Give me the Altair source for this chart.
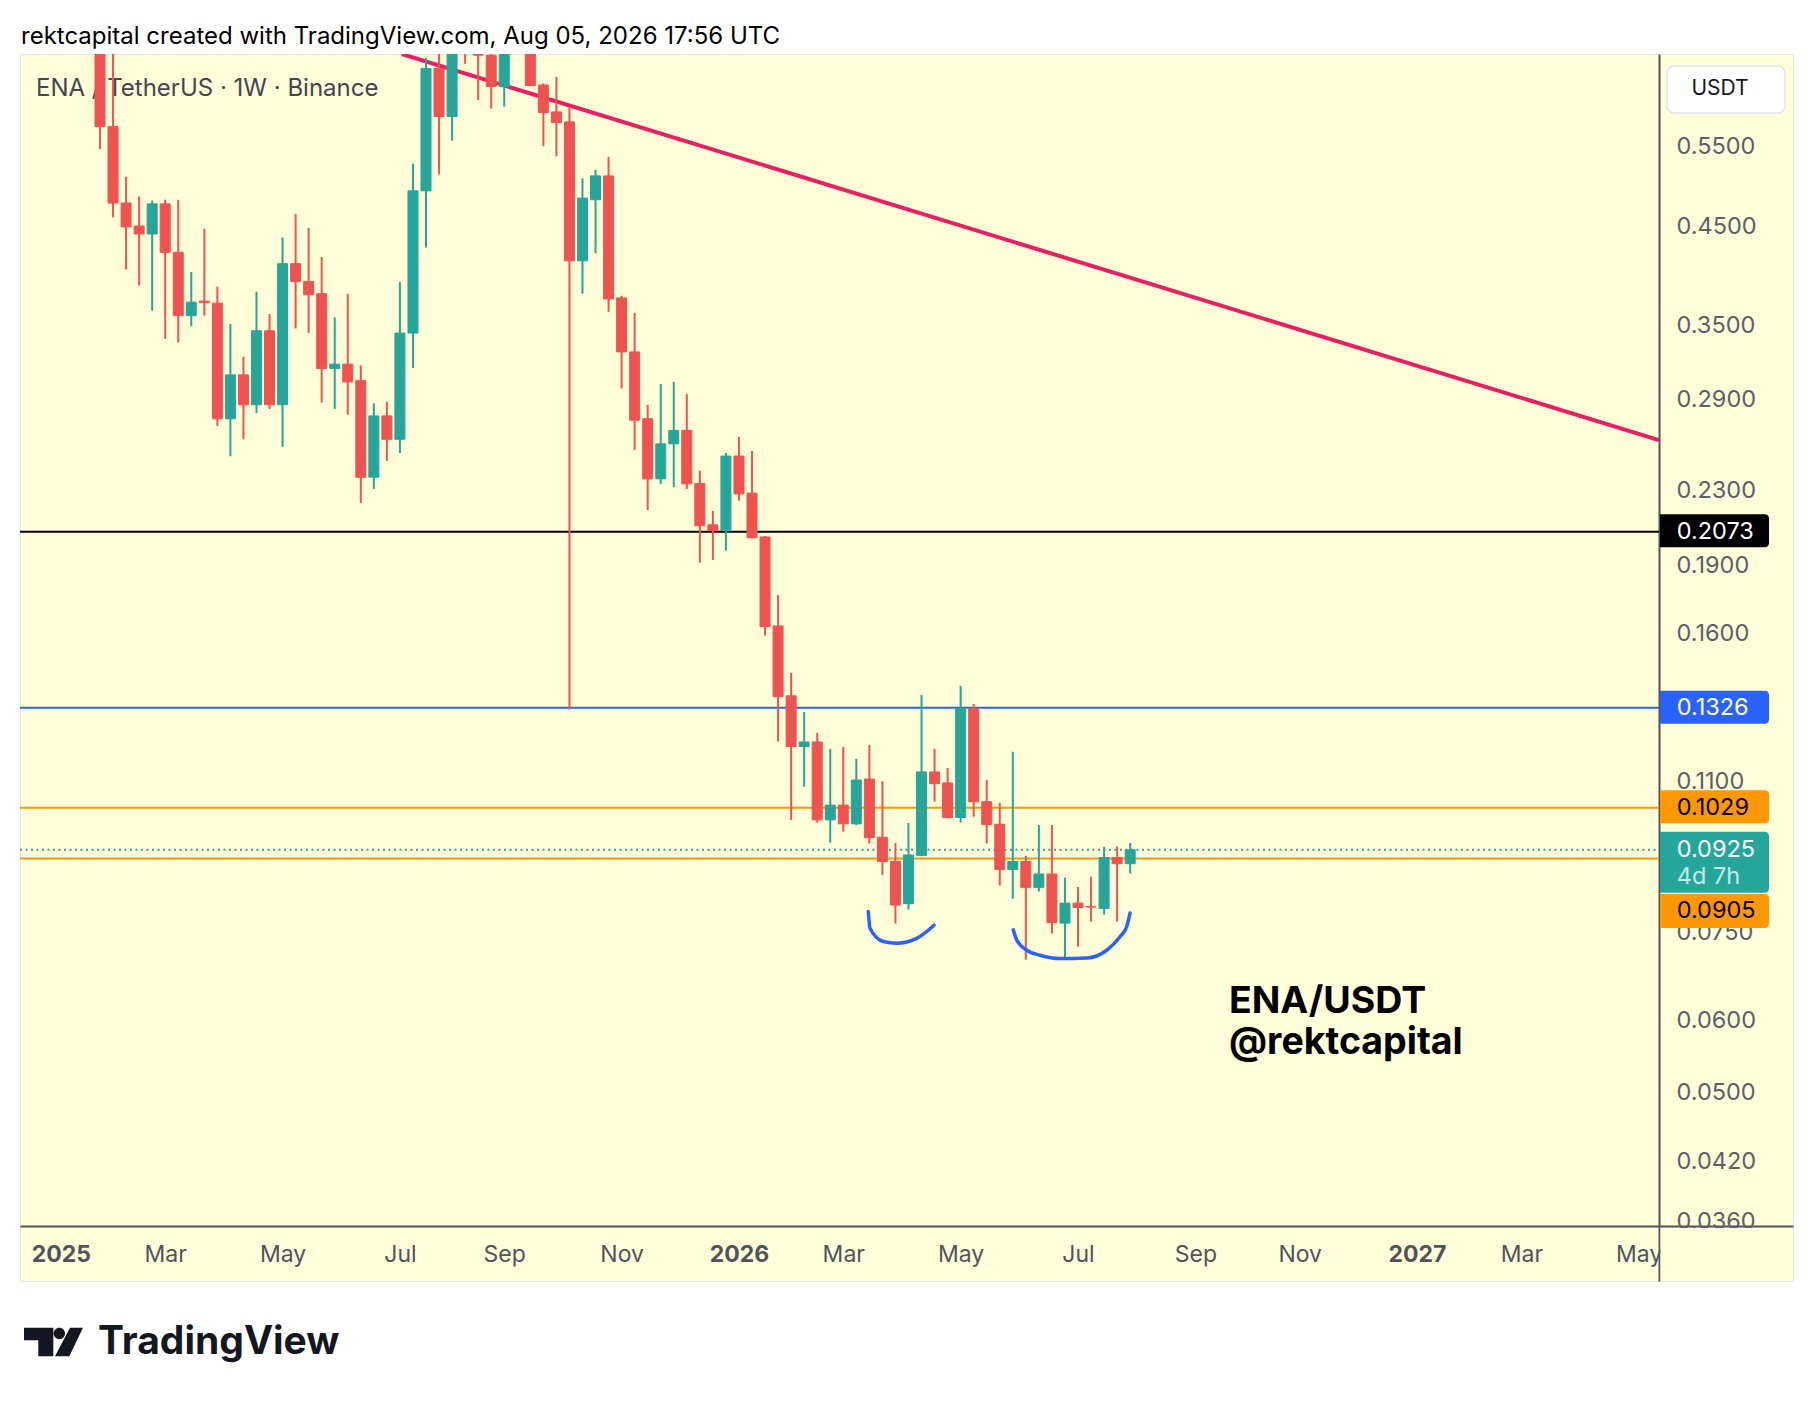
import altair as alt
import pandas as pd

# ---------------- data ----------------
FIRST_WEEK = "2025-01-27"   # first weekly candle shown

opens = [0.760, 0.579, 0.477, 0.450, 0.441, 0.476, 0.421, 0.3585, 0.372, 0.370,
         0.276, 0.3085, 0.286, 0.345, 0.286, 0.409, 0.391, 0.379, 0.3135, 0.317,
         0.304, 0.238, 0.278, 0.262, 0.343, 0.492, 0.671, 0.594, 0.745, 0.725,
         0.694, 0.641, 0.750, 0.780, 0.6435, 0.601, 0.586, 0.412, 0.481, 0.511,
         0.375, 0.327, 0.276, 0.237, 0.259, 0.268, 0.2343, 0.2109, 0.2081, 0.2511,
         0.2286, 0.2045, 0.1632, 0.1367, 0.1202, 0.1216, 0.0998, 0.1036, 0.0988, 0.1107,
         0.0955, 0.0898, 0.0807, 0.0912, 0.1127, 0.1096, 0.1004, 0.1323, 0.1045, 0.0987,
         0.0880, 0.0898, 0.0841, 0.0870, 0.0768, 0.0808, 0.0801, 0.0797, 0.0907, 0.0893]
highs = [0.830, 0.720, 0.510, 0.485, 0.480, 0.481, 0.481, 0.4005, 0.447, 0.386,
         0.351, 0.323, 0.381, 0.360, 0.437, 0.464, 0.448, 0.416, 0.357, 0.379,
         0.316, 0.287, 0.288, 0.3905, 0.527, 0.689, 0.720, 0.780, 0.840, 0.760,
         0.720, 0.800, 0.850, 0.800, 0.646, 0.657, 0.609, 0.508, 0.519, 0.536,
         0.377, 0.361, 0.286, 0.3015, 0.303, 0.294, 0.242, 0.2185, 0.2531, 0.2636,
         0.2544, 0.2050, 0.1765, 0.1449, 0.1312, 0.1244, 0.1195, 0.1201, 0.1165, 0.1207,
         0.1101, 0.0941, 0.0990, 0.1370, 0.1195, 0.1138, 0.1402, 0.1339, 0.1104, 0.1042,
         0.1186, 0.0911, 0.0985, 0.0985, 0.0862, 0.0842, 0.0864, 0.0932, 0.0933, 0.0941]
lows = [0.547, 0.460, 0.403, 0.387, 0.363, 0.338, 0.335, 0.349, 0.3585, 0.271,
        0.251, 0.262, 0.280, 0.283, 0.257, 0.347, 0.343, 0.2876, 0.283, 0.279,
        0.223, 0.231, 0.248, 0.253, 0.314, 0.426, 0.513, 0.559, 0.679, 0.6195,
        0.606, 0.609, 0.705, 0.642, 0.551, 0.537, 0.132, 0.379, 0.420, 0.362,
        0.298, 0.255, 0.219, 0.234, 0.232, 0.231, 0.1916, 0.1929, 0.1975, 0.2242,
        0.2037, 0.1592, 0.1217, 0.0998, 0.1086, 0.0991, 0.0942, 0.0969, 0.0985, 0.0940,
        0.0868, 0.0767, 0.0795, 0.0910, 0.1045, 0.1002, 0.0991, 0.1006, 0.0940, 0.0845,
        0.0817, 0.0700, 0.0832, 0.0748, 0.0704, 0.0724, 0.0771, 0.0785, 0.0771, 0.0871]
closes = [0.579, 0.477, 0.449, 0.441, 0.476, 0.421, 0.3585, 0.371, 0.3705, 0.276,
          0.3085, 0.286, 0.345, 0.286, 0.409, 0.391, 0.378, 0.3135, 0.317, 0.303,
          0.238, 0.278, 0.262, 0.343, 0.492, 0.671, 0.594, 0.740, 0.725, 0.694,
          0.641, 0.750, 0.780, 0.6425, 0.600, 0.585, 0.412, 0.483, 0.511, 0.374,
          0.327, 0.275, 0.237, 0.259, 0.268, 0.234, 0.2104, 0.2078, 0.2511, 0.2281,
          0.2041, 0.1629, 0.1364, 0.1202, 0.1216, 0.0998, 0.1036, 0.0988, 0.1104, 0.0954,
          0.0898, 0.0804, 0.0913, 0.1127, 0.1094, 0.1004, 0.1323, 0.1045, 0.0986, 0.0880,
          0.0898, 0.0841, 0.0870, 0.0769, 0.0808, 0.0799, 0.0800, 0.0907, 0.0893, 0.0925]

level_prices = [0.2073, 0.1326, 0.1029, 0.0905]
level_colors = ["#000000", "#2962ff", "#ff9800", "#ff9800"]
last_price = 0.0925
countdown = "4d 7h"

y_ticks = [0.55, 0.45, 0.35, 0.29, 0.23, 0.19, 0.16, 0.11, 0.075, 0.06, 0.05, 0.042, 0.036]
x_tick_dates = ["2025-01-06", "2025-03-03", "2025-05-05", "2025-07-07", "2025-09-01",
                "2025-11-03", "2026-01-05", "2026-03-02", "2026-05-04", "2026-07-06",
                "2026-09-07", "2026-11-02", "2027-01-04", "2027-03-01", "2027-05-03"]

# descending trendline (weeks after first candle, price)
trend_weeks = [23.14, 119.55]
trend_prices = [0.6961, 0.2615]

# hand drawn blue arcs (weeks after first candle, price)
arc1_weeks = [58.92, 59.05, 60.07, 61.10, 62.63, 63.96]
arc1_prices = [0.0791, 0.0758, 0.0733, 0.0730, 0.0739, 0.0764]
arc2_weeks = [70.04, 70.30, 71.07, 72.09, 73.62, 75.67, 77.20, 78.22, 78.73, 78.99]
arc2_prices = [0.0755, 0.0736, 0.0717, 0.0708, 0.0702, 0.0703, 0.0717, 0.0742, 0.0761, 0.0788]

header = "rektcapital created with TradingView.com, Aug 05, 2026 17:56 UTC"
symbol_line = "ENA / TetherUS \u00b7 1W \u00b7 Binance"
note_lines = ["ENA/USDT", "@rektcapital"]

# ---------------- geometry / style ----------------
PLOT_W, PLOT_H = 1773, 1227
FIRST_X = 80.0        # px of first candle from plot left
STEP = 13.04          # px per week
AXIS_X = 1639.0       # px of price axis line from plot left
Y_DOMAIN = [0.03099, 0.6961]
GREEN, RED = "#26a69a", "#ef5350"
BG = "#fffed8"
FONT = "Inter"

WEEK_MS = 7 * 86400000
base_ms = int(pd.Timestamp(FIRST_WEEK, tz="UTC").timestamp() * 1000)


def wk(w):
    return base_ms + w * WEEK_MS


t_left = wk(-FIRST_X / STEP)
t_right = wk((PLOT_W - FIRST_X) / STEP)
t_axis = wk((AXIS_X - FIRST_X) / STEP)

xscale = alt.Scale(type="utc", domain=[t_left, t_right], nice=False, padding=0)
yscale = alt.Scale(type="log", domain=Y_DOMAIN, nice=False, zero=False, padding=0)

tick_ms = [int(pd.Timestamp(d, tz="UTC").timestamp() * 1000) for d in x_tick_dates]
xaxis = alt.Axis(orient="bottom", offset=-55, values=tick_ms, title=None,
                 labelExpr="utcmonth(datum.value) == 0 ? utcFormat(datum.value, '%Y') : utcFormat(datum.value, '%b')",
                 labelFontWeight={"condition": {"test": "utcmonth(datum.value) == 0", "value": "bold"}, "value": "normal"},
                 labelFont=FONT, labelFontSize=23, labelColor="#50535e", labelPadding=17,
                 ticks=False, tickSize=0, grid=False, domainColor="#50535e", domainWidth=2,
                 labelFlush=False, labelOverlap=False, labelBound=False, zindex=0)
yaxis = alt.Axis(orient="right", offset=-(PLOT_W - AXIS_X), values=y_ticks, format=".4f",
                 title=None, labelFont=FONT, labelFontSize=23.5, labelColor="#5d606b",
                 labelPadding=17, ticks=False, tickSize=0, grid=False,
                 domainColor="#50535e", domainWidth=2, labelFlush=False,
                 labelOverlap=False, labelBound=False, zindex=0)


def X(field, **kw):
    return alt.X(field, type="temporal", scale=xscale, axis=xaxis, **kw)


def Y(field, **kw):
    return alt.Y(field, type="quantitative", scale=yscale, axis=yaxis, **kw)


# ---------------- tables ----------------
cdf = pd.DataFrame({"o": opens, "h": highs, "l": lows, "c": closes})
cdf["t"] = [wk(i) for i in range(len(cdf))]
cdf["col"] = [GREEN if c >= o else RED for o, c in zip(opens, closes)]

ldf = pd.DataFrame({"p": level_prices, "col": level_colors,
                    "t0": [t_left] * len(level_prices), "t1": [t_axis] * len(level_prices)})
lastdf = pd.DataFrame({"p": [last_price], "t0": [t_left], "t1": [t_axis]})
trdf = pd.DataFrame({"t": [wk(w) for w in trend_weeks], "p": trend_prices})
a1 = pd.DataFrame({"t": [wk(w) for w in arc1_weeks], "p": arc1_prices})
a2 = pd.DataFrame({"t": [wk(w) for w in arc2_weeks], "p": arc2_prices})
one = pd.DataFrame({"a": [0]})

layers = []

# patch hiding the part of the price scale below the time axis line
patch = pd.DataFrame({"t0": [t_axis + int(1.5 / STEP * WEEK_MS)], "t1": [t_right],
                      "p0": [0.03545], "p1": [Y_DOMAIN[0]]})
layers.append(alt.Chart(patch).mark_rect(color=BG).encode(
    x=X("t0"), x2="t1", y=Y("p0"), y2="p1"))

# symbol line text (under the candles)
layers.append(alt.Chart(one).mark_text(text=symbol_line, align="left", baseline="middle",
                                       font=FONT, fontSize=24, color="#434651").encode(
    x=alt.value(16), y=alt.value(35)))

# horizontal levels
layers.append(alt.Chart(ldf).mark_rule(strokeWidth=2).encode(
    x=X("t0"), x2="t1", y=Y("p"), color=alt.Color("col:N", scale=None)))
layers.append(alt.Chart(lastdf).mark_rule(strokeWidth=2, strokeDash=[2, 3.5], color=GREEN).encode(
    x=X("t0"), x2="t1", y=Y("p")))

# trendline
layers.append(alt.Chart(trdf).mark_line(color="#e91e63", strokeWidth=4, clip=True).encode(
    x=X("t"), y=Y("p")))

# candles
layers.append(alt.Chart(cdf).mark_rule(strokeWidth=2, clip=True).encode(
    x=X("t"), y=Y("l"), y2="h", color=alt.Color("col:N", scale=None)))
layers.append(alt.Chart(cdf).mark_bar(size=10, strokeWidth=1, clip=True).encode(
    x=X("t"), y=Y("o"), y2="c",
    fill=alt.Fill("col:N", scale=None), stroke=alt.Stroke("col:N", scale=None)))

# blue arcs
for adf in (a1, a2):
    layers.append(alt.Chart(adf).mark_line(color="#2962ff", strokeWidth=3.5, interpolate="monotone",
                                           strokeCap="round").encode(x=X("t"), y=Y("p")))

# price labels on the scale
box_specs = [
    (level_prices[0], "#000000", "#ffffff", -17.5, 15.5, 0),
    (level_prices[1], "#2962ff", "#ffffff", -17.0, 16.0, 0),
    (level_prices[2], "#ff9800", "#000000", -17.5, 15.5, 0),
    (last_price, GREEN, "#ffffff", -18.0, 43.0, 0),
    (level_prices[3], "#ff9800", "#000000", 35.5, 69.5, 52.5),
]
for price, fill, tcol, top, bot, dy in box_specs:
    bdf = pd.DataFrame({"p": [price], "lab": [f"{price:.4f}"]})
    layers.append(alt.Chart(bdf).mark_rect(color=fill, yOffset=top, y2Offset=bot,
                                           cornerRadiusTopRight=4, cornerRadiusBottomRight=4).encode(
        x=alt.value(AXIS_X + 1), x2=alt.value(AXIS_X + 110), y=Y("p"), y2="p"))
    layers.append(alt.Chart(bdf).mark_text(align="left", baseline="middle", dy=dy, font=FONT,
                                           fontSize=23.5, color=tcol).encode(
        x=alt.value(AXIS_X + 17.7), y=Y("p"), text="lab:N"))
cd = pd.DataFrame({"p": [last_price], "lab": [countdown]})
layers.append(alt.Chart(cd).mark_text(align="left", baseline="middle", dy=27, font=FONT,
                                      fontSize=23.5, color="#c4ece8").encode(
    x=alt.value(AXIS_X + 17.7), y=Y("p"), text="lab:N"))

# USDT box
layers.append(alt.Chart(one).mark_rect(fill="#ffffff", stroke="#e0e3eb", strokeWidth=1.5,
                                       cornerRadius=7).encode(
    x=alt.value(1647), x2=alt.value(1765), y=alt.value(12), y2=alt.value(59)))
layers.append(alt.Chart(one).mark_text(text="USDT", align="center", baseline="middle",
                                       font=FONT, fontSize=21, color="#131722").encode(
    x=alt.value(1700), y=alt.value(35)))

# note text
for i, line in enumerate(note_lines):
    layers.append(alt.Chart(one).mark_text(text=line, align="left", baseline="middle", font=FONT,
                                           fontSize=37.5, fontWeight="bold", color="#000000").encode(
        x=alt.value(1209), y=alt.value(948 + 41 * i)))

# header
layers.append(alt.Chart(one).mark_text(text=header, align="left", baseline="middle", font=FONT,
                                       fontSize=24, color="#000000").encode(
    x=alt.value(1), y=alt.value(-17)))

# TradingView logo
logo_path = ("M -1 -0.48 L -0.006 -0.48 L -0.006 0.48 L -0.515 0.48 L -0.515 -0.06 L -1 -0.06 Z "
             "M 0.006 -0.288 A 0.192 0.192 0 1 0 0.39 -0.288 A 0.192 0.192 0 1 0 0.006 -0.288 Z "
             "M 0.559 -0.48 L 1 -0.48 L 0.537 0.48 L 0.051 0.48 Z")
layers.append(alt.Chart(one).mark_point(shape=logo_path, size=3481, filled=True, opacity=1,
                                        color="#131722", strokeWidth=0).encode(
    x=alt.value(33.5), y=alt.value(1288)))
layers.append(alt.Chart(one).mark_text(text="TradingView", align="left", baseline="middle",
                                       font=FONT, fontSize=39, fontWeight="bold",
                                       color="#131722").encode(
    x=alt.value(78), y=alt.value(1288)))

chart = alt.layer(*layers).properties(
    width=PLOT_W, height=PLOT_H,
    autosize=alt.AutoSizeParams(type="none"),
    padding={"left": 12, "top": 46, "right": 13, "bottom": 110},
    background="#ffffff",
).configure_view(fill=BG, stroke="#e6e6e0", strokeWidth=1)

chart.save("out.html", embed_options={"renderer": "svg", "actions": False})
